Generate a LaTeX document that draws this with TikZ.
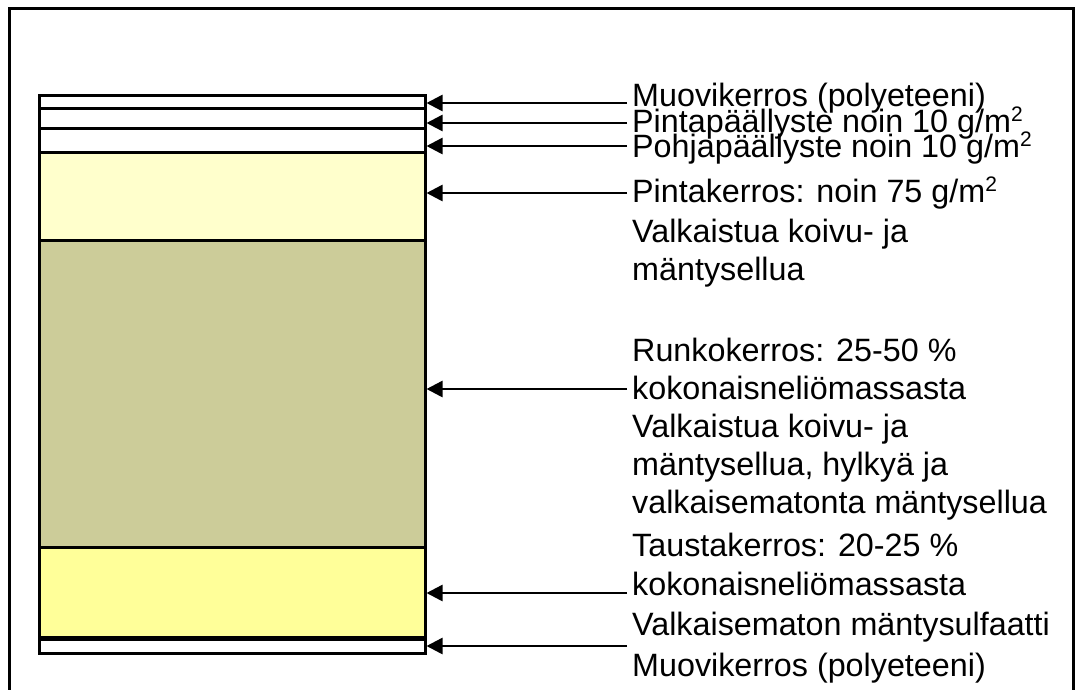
\documentclass[tikz,border=0pt]{standalone}
\usepackage{fontspec}
\setmainfont{Liberation Sans}
\usetikzlibrary{arrows.meta}
\definecolor{topcoat}{HTML}{FFFFCC}
\definecolor{bodycoat}{HTML}{CCCC99}
\definecolor{backcoat}{HTML}{FFFF99}
% square metre with a small raised 2
\newcommand{\sqmetre}{m\raisebox{11pt}{\fontsize{21}{21}\selectfont 2}}

\begin{document}
\begin{tikzpicture}[x=1pt,y=-1pt,
  layer/.style={draw=black, line width=3pt, minimum width=386pt, inner sep=0pt, outer sep=1.5pt},
  lbl/.style={anchor=base west, inner sep=0pt, font=\fontsize{32.3}{38}\selectfont},
  pointer/.style={line width=2.5pt, -{Triangle[length=16pt,width=16pt]}}
]
\useasboundingbox (0,0) rectangle (1077,689);
\clip (0,0) rectangle (1077,689);

% outer frame (open at the bottom)
\draw[line width=3pt] (9,700) -- (9,8) -- (1073,8) -- (1073,700);

% board layers, top to bottom
\node[layer, fill=white,    minimum height=13pt]  (L1) at (232,101.5) {};
\node[layer, fill=white,    minimum height=20pt]  (L2) at (232,118)   {};
\node[layer, fill=white,    minimum height=24pt]  (L3) at (232,140)   {};
\node[layer, fill=topcoat,  minimum height=88pt]  (L4) at (232,196)   {};
\node[layer, fill=bodycoat, minimum height=307pt] (L5) at (232,393.5) {};
\node[layer, fill=backcoat, minimum height=90pt]  (L6) at (232,592)   {};
\node[layer, fill=white,    minimum height=14pt]  (L7) at (232,646)   {};

% labels
\node[lbl] (t1)  at (632,106) {Muovikerros (polyeteeni)};
\node[lbl] (t2)  at (632,132) {Pintapäällyste noin 10 g/\sqmetre};
\node[lbl] (t3)  at (632,157) {Pohjapäällyste noin 10 g/\sqmetre};
\node[lbl] (t4a) at (632,202) {Pintakerros: noin 75 g/\sqmetre};
\node[lbl] (t4b) at (632,242) {Valkaistua koivu- ja};
\node[lbl] (t4c) at (632,280) {mäntysellua};
\node[lbl] (t5a) at (632,361) {Runkokerros: 25-50 \%};
\node[lbl] (t5b) at (632,399) {kokonaisneliömassasta};
\node[lbl] (t5c) at (632,437) {Valkaistua koivu- ja};
\node[lbl] (t5d) at (632,475) {mäntysellua, hylkyä ja};
\node[lbl] (t5e) at (632,513) {valkaisematonta mäntysellua};
\node[lbl] (t6a) at (632,556) {Taustakerros: 20-25 \%};
\node[lbl] (t6b) at (632,595) {kokonaisneliömassasta};
\node[lbl] (t6c) at (632,635) {Valkaisematon mäntysulfaatti};
\node[lbl] (t7)  at (632,676) {Muovikerros (polyeteeni)};

% pointer start points just left of the labels
\coordinate (p1) at (627,103);
\coordinate (p2) at (627,123);
\coordinate (p3) at (627,146);
\coordinate (p4) at (627,193);
\coordinate (p5) at (627,389);
\coordinate (p6) at (627,593);
\coordinate (p7) at (627,646);

\draw[pointer] (p1) -- (p1 -| L1.east);
\draw[pointer] (p2) -- (p2 -| L2.east);
\draw[pointer] (p3) -- (p3 -| L3.east);
\draw[pointer] (p4) -- (p4 -| L4.east);
\draw[pointer] (p5) -- (p5 -| L5.east);
\draw[pointer] (p6) -- (p6 -| L6.east);
\draw[pointer] (p7) -- (p7 -| L7.east);
\end{tikzpicture}
\end{document}
